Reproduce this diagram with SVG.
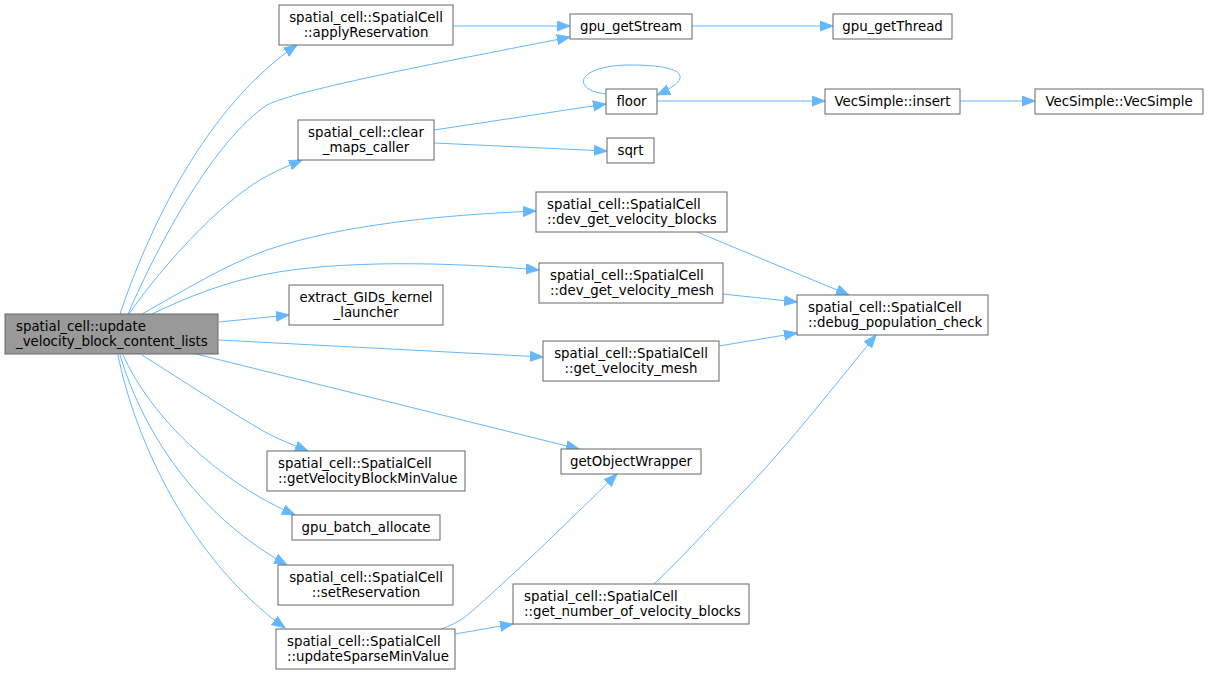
<svg xmlns="http://www.w3.org/2000/svg" width="1208" height="675" viewBox="0 0 1208 675">
<style>
.n rect{fill:#ffffff;stroke:#666666;stroke-width:1}
.n.root rect{fill:#999999;stroke:#666666}
.n text{font-family:'DejaVu Sans','Liberation Sans',sans-serif;font-size:13.33px;fill:#000000}
.m{text-anchor:middle}
.s{text-anchor:start}
.e path{fill:none;stroke:#63b8ff;stroke-width:1;marker-end:url(#arr)}
</style>
<defs>
<marker id="arr" markerWidth="14" markerHeight="12" refX="13" refY="5.5" orient="auto" markerUnits="userSpaceOnUse">
<path d="M0,0.5 L13,5.5 L0,10.5 Z" fill="#63b8ff" stroke="#63b8ff" stroke-width="1"/>
</marker>
</defs>
<rect x="0" y="0" width="1208" height="675" fill="#ffffff"/>
<g id="connectors" class="e">
<path d="M120,314 C155,210 215,100 297,45"/>
<path d="M128,314 C160,240 215,140 267,105 C300,88 480,55 570,37"/>
<path d="M453,26 L570,26"/>
<path d="M692,26 L833,26"/>
<path d="M129,314 C170,255 230,195 267,176 C278,170 290,165 302,160"/>
<path d="M434,130 L606,104"/>
<path d="M434,143 L607,151"/>
<path d="M606,94 C570,90 576,65 631,65 C683,65 697,77 657,95"/>
<path d="M657,101 L825,101"/>
<path d="M960,101 L1035,101"/>
<path d="M142,314 C185,290 225,265 267,250 C340,225 440,215 536,211"/>
<path d="M152,314 C185,298 225,282 267,274 C340,260 450,262 539,270"/>
<path d="M219,322 L289,315"/>
<path d="M219,340 L543,357"/>
<path d="M196,354 L579,449"/>
<path d="M697,232 L849,295"/>
<path d="M723,294 L797,302"/>
<path d="M719,346 L797,333"/>
<path d="M654,584 C690,550 720,515 745,490 C790,443 835,385 876,335"/>
<path d="M441,629 C450,626 458,622 465,617 C500,588 570,520 617,474"/>
<path d="M455,634 L513,624"/>
<path d="M142,355 C185,382 230,412 265,432 C278,439 293,445 308,451"/>
<path d="M123,355 C150,415 215,480 295,515"/>
<path d="M120,355 C145,440 205,520 287,565"/>
<path d="M118,355 C135,440 190,560 285,628"/>
</g>
<g id="node-root" class="n root"><rect x="5" y="314" width="213" height="40"/><text class="s" x="16" y="330.5">spatial_cell::update</text><text class="s" x="16" y="345.5">_velocity_block_content_lists</text></g>
<g id="node-applyReservation" class="n"><rect x="279" y="5" width="174" height="40"/><text class="m" x="366" y="21.5">spatial_cell::SpatialCell</text><text class="m" x="366" y="36.5">::applyReservation</text></g>
<g id="node-gpu_getStream" class="n"><rect x="570" y="14" width="122" height="25"/><text class="m" x="631" y="30.5">gpu_getStream</text></g>
<g id="node-gpu_getThread" class="n"><rect x="833" y="14" width="119" height="25"/><text class="m" x="892.5" y="30.5">gpu_getThread</text></g>
<g id="node-floor" class="n"><rect x="606" y="89" width="51" height="25"/><text class="m" x="631.5" y="105.5">floor</text></g>
<g id="node-sqrt" class="n"><rect x="607" y="138" width="47" height="25"/><text class="m" x="630.5" y="154.5">sqrt</text></g>
<g id="node-VecSimple-insert" class="n"><rect x="825" y="89" width="135" height="25"/><text class="m" x="892.5" y="105.5">VecSimple::insert</text></g>
<g id="node-VecSimple-VecSimple" class="n"><rect x="1035" y="89" width="168" height="25"/><text class="m" x="1119" y="105.5">VecSimple::VecSimple</text></g>
<g id="node-clear_maps_caller" class="n"><rect x="298" y="120" width="136" height="40"/><text class="m" x="366" y="136.5">spatial_cell::clear</text><text class="m" x="366" y="151.5">_maps_caller</text></g>
<g id="node-dev_get_velocity_blocks" class="n"><rect x="536" y="192" width="191" height="40"/><text class="s" x="547" y="208.5">spatial_cell::SpatialCell</text><text class="s" x="547" y="223.5">::dev_get_velocity_blocks</text></g>
<g id="node-dev_get_velocity_mesh" class="n"><rect x="539" y="263" width="184" height="40"/><text class="s" x="550" y="279.5">spatial_cell::SpatialCell</text><text class="s" x="550" y="294.5">::dev_get_velocity_mesh</text></g>
<g id="node-debug_population_check" class="n"><rect x="797" y="295" width="191" height="40"/><text class="s" x="808" y="311.5">spatial_cell::SpatialCell</text><text class="s" x="808" y="326.5">::debug_population_check</text></g>
<g id="node-extract_GIDs_kernel_launcher" class="n"><rect x="289" y="285" width="154" height="40"/><text class="m" x="366" y="301.5">extract_GIDs_kernel</text><text class="m" x="366" y="316.5">_launcher</text></g>
<g id="node-get_velocity_mesh" class="n"><rect x="543" y="341" width="176" height="40"/><text class="m" x="631" y="357.5">spatial_cell::SpatialCell</text><text class="m" x="631" y="372.5">::get_velocity_mesh</text></g>
<g id="node-getObjectWrapper" class="n"><rect x="561" y="449" width="140" height="25"/><text class="m" x="631" y="465.5">getObjectWrapper</text></g>
<g id="node-getVelocityBlockMinValue" class="n"><rect x="267" y="451" width="198" height="40"/><text class="s" x="278" y="467.5">spatial_cell::SpatialCell</text><text class="s" x="278" y="482.5">::getVelocityBlockMinValue</text></g>
<g id="node-gpu_batch_allocate" class="n"><rect x="292" y="515" width="148" height="25"/><text class="m" x="366" y="531.5">gpu_batch_allocate</text></g>
<g id="node-setReservation" class="n"><rect x="278" y="565" width="175" height="40"/><text class="m" x="366" y="581.5">spatial_cell::SpatialCell</text><text class="m" x="366" y="596.5">::setReservation</text></g>
<g id="node-updateSparseMinValue" class="n"><rect x="276" y="629" width="179" height="40"/><text class="s" x="287" y="645.5">spatial_cell::SpatialCell</text><text class="s" x="287" y="660.5">::updateSparseMinValue</text></g>
<g id="node-get_number_of_velocity_blocks" class="n"><rect x="513" y="584" width="236" height="40"/><text class="s" x="524" y="600.5">spatial_cell::SpatialCell</text><text class="s" x="524" y="615.5">::get_number_of_velocity_blocks</text></g>
</svg>
